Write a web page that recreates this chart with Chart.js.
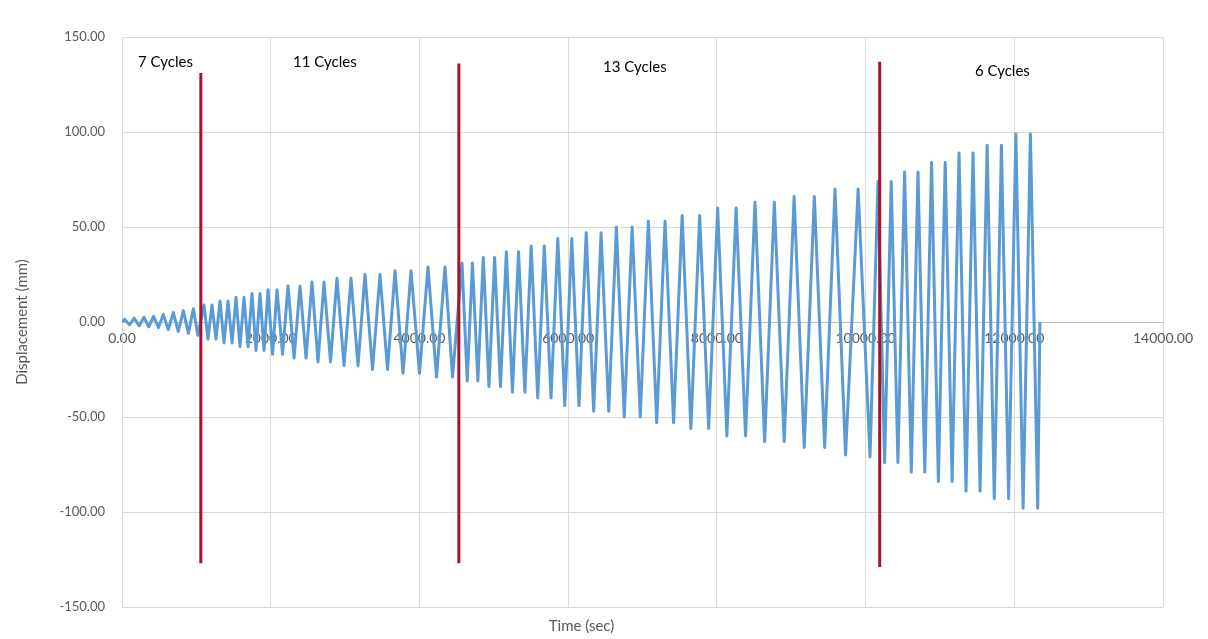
<!DOCTYPE html>
<html>
<head>
<meta charset="utf-8">
<script src="https://cdn.jsdelivr.net/npm/chart.js@4.4.1/dist/chart.umd.min.js"></script>
<style>
  body { margin: 0; background: #fff; }
  #wrap { width: 1208px; height: 639px; }
</style>
</head>
<body>
<div id="wrap"><canvas id="chart" width="1208" height="639"></canvas></div>
<script>
// time (sec) of each turning point of the displacement history, and its value (mm)
const times = [
  0, 35, 100, 165, 230, 295, 360, 425, 490, 555, 622, 690, 757, 825, 892, 960, 1020,
  1103, 1156, 1210, 1264, 1318, 1372, 1426, 1480, 1533, 1587, 1641, 1695, 1748, 1802, 1856, 1910,
  1964, 2025, 2085, 2159, 2233, 2314, 2394, 2475, 2555, 2636, 2717, 2804, 2891, 2986, 3080, 3174,
  3268, 3369, 3470, 3571, 3672, 3780, 3887, 4001, 4115, 4230, 4344, 4445,
  4573, 4643, 4713, 4786, 4859, 4935, 5011, 5090, 5169, 5251, 5333, 5418, 5503, 5591, 5679, 5770,
  5861, 5955, 6049, 6146, 6243, 6343, 6443, 6546, 6649, 6755, 6861, 6970, 7079, 7191, 7303, 7418,
  7533, 7651, 7769, 7890, 8011, 8135, 8259, 8386, 8513, 8643, 8773, 8906, 9039, 9175, 9311, 9450,
  9589, 9731, 9900, 10060,
  10167, 10256, 10345, 10435, 10525, 10615, 10705, 10796, 10887, 10979, 11071, 11164,
  11257, 11351, 11445, 11540, 11635, 11731, 11827, 11924, 12021, 12119, 12217, 12315, 12345
];
const displacement = [
  0, 1.5, -1.5, 2, -2, 2.5, -2.5, 3, -3, 4, -4, 5, -5, 6, -6, 7, -7,
  9, -9, 9, -9, 11, -11, 11, -11, 13, -13, 13, -13, 15, -15, 15, -15,
  17, -17, 17, -17, 19, -19, 19, -19, 21, -21, 21, -21, 23, -23, 23, -23,
  25, -25, 25, -25, 27, -27, 27, -27, 29, -29, 29, -29,
  31, -31, 31, -31, 34, -34, 34, -34, 37, -37, 37, -37, 40, -40, 40, -40,
  44, -44, 44, -44, 47, -47, 47, -47, 50, -50, 50, -50, 53, -53, 53, -53,
  56, -56, 56, -56, 60, -60, 60, -60, 63, -63, 63, -63, 66, -66, 66, -66,
  70, -70, 70, -71,
  74, -74, 74, -74, 79, -79, 79, -79, 84, -84, 84, -84,
  89, -89, 89, -89, 93, -93, 93, -93, 99, -98, 99, -98, 0
];

// red markers separating the loading stages
const stageTimes = [1060, 4530, 10190];
const stageTop = [131, 136, 137];
const stageBottom = [-127, -127, -129];
const stageLabels = ['7 Cycles', '11 Cycles', '13 Cycles', '6 Cycles'];
const labelTimes = [215, 2300, 6470, 11470];
const labelDisp = [137, 137, 134, 132];

const xTicks = [0, 2000, 4000, 6000, 8000, 10000, 12000, 14000];
const yTicks = [-150, -100, -50, 0, 50, 100, 150];

const font = 'Lato, "Open Sans", sans-serif';
const gray = '#595959';

const wave = times.map((t, i) => ({ x: t, y: displacement[i] }));

const markers = stageTimes.map((t, i) => ({
  data: [{ x: t, y: stageTop[i] }, { x: t, y: stageBottom[i] }],
  borderColor: '#a8122c',
  borderWidth: 3,
  pointRadius: 0,
  tension: 0,
  order: 0
}));

const stageText = {
  id: 'stageText',
  afterDatasetsDraw(chart) {
    const ctx = chart.ctx;
    const xs = chart.scales.x, ys = chart.scales.y;
    ctx.save();
    ctx.fillStyle = '#000';
    ctx.font = '15px ' + font;
    ctx.textAlign = 'left';
    ctx.textBaseline = 'middle';
    stageLabels.forEach((txt, i) => {
      ctx.fillText(txt, xs.getPixelForValue(labelTimes[i]), ys.getPixelForValue(labelDisp[i]));
    });
    ctx.restore();
  }
};

new Chart(document.getElementById('chart'), {
  type: 'line',
  data: {
    datasets: [
      ...markers,
      {
        data: wave,
        borderColor: '#5b9bd5',
        borderWidth: 3,
        borderJoinStyle: 'round',
        pointRadius: 0,
        tension: 0,
        order: 1
      }
    ]
  },
  options: {
    responsive: false,
    animation: false,
    layout: { padding: { left: 0, right: 45, top: 37, bottom: 4 } },
    plugins: {
      legend: { display: false },
      tooltip: { enabled: false },
      title: {
        display: true,
        position: 'bottom',
        text: 'Time (sec)',
        color: gray,
        font: { family: font, size: 15, weight: 'normal' },
        padding: { top: 10, bottom: 0 }
      }
    },
    scales: {
      x: {
        type: 'linear',
        position: { y: 0 },
        min: 0,
        max: 14000,
        afterBuildTicks(scale) { scale.ticks = xTicks.map(v => ({ value: v })); },
        ticks: {
          color: gray,
          font: { family: font, size: 14 },
          padding: 8,
          maxRotation: 0,
          callback: v => v.toFixed(2)
        },
        grid: { color: '#d9d9d9', drawTicks: false },
        border: { color: '#bfbfbf' }
      },
      y: {
        min: -150,
        max: 150,
        afterBuildTicks(scale) { scale.ticks = yTicks.map(v => ({ value: v })); },
        afterFit(scale) { scale.width = 122; },
        ticks: {
          color: gray,
          font: { family: font, size: 13 },
          padding: 17,
          callback: v => v.toFixed(2)
        },
        grid: { color: '#d9d9d9', drawTicks: false },
        border: { color: '#d9d9d9' },
        title: {
          display: true,
          text: 'Displacement (mm)',
          color: gray,
          font: { family: font, size: 15 },
          padding: { top: 13, bottom: 0 }
        }
      }
    }
  },
  plugins: [stageText]
});
</script>
</body>
</html>
